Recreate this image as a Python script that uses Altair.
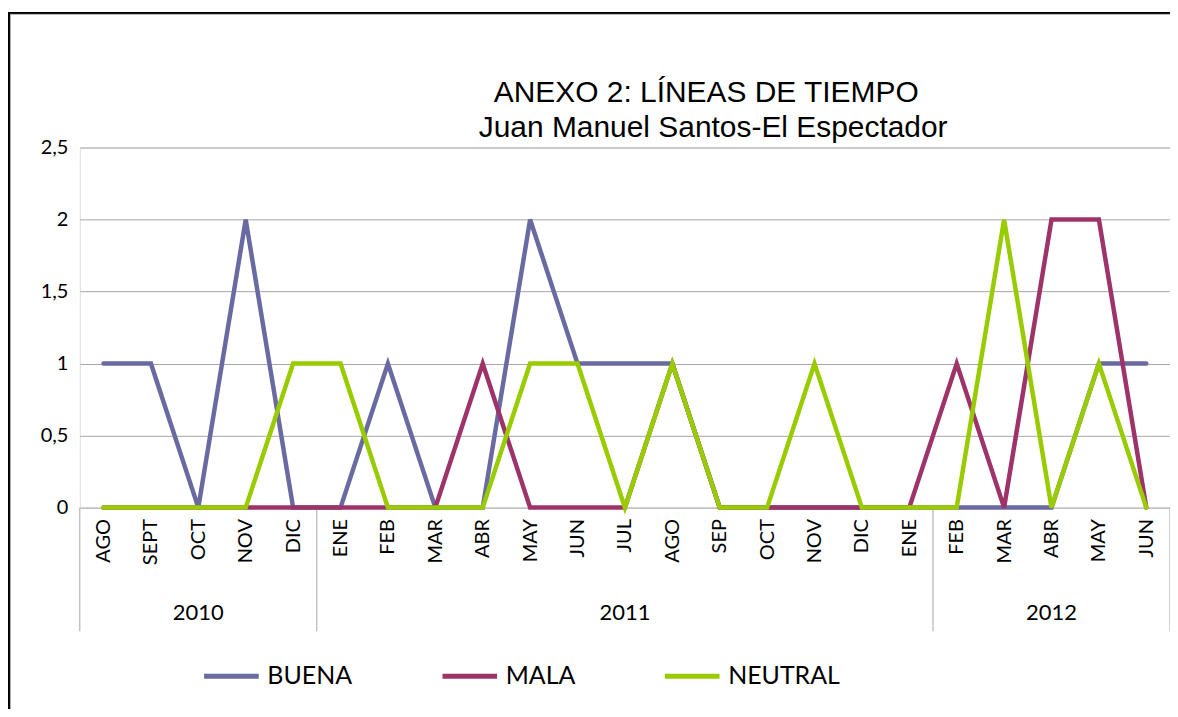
import altair as alt
import pandas as pd

# ---- data ----
months = ["AGO", "SEPT", "OCT", "NOV", "DIC",
          "ENE", "FEB", "MAR", "ABR", "MAY", "JUN", "JUL", "AGO", "SEP", "OCT", "NOV", "DIC", "ENE",
          "FEB", "MAR", "ABR", "MAY", "JUN"]
years = ["2010", "2010", "2010", "2010", "2010",
         "2011", "2011", "2011", "2011", "2011", "2011", "2011", "2011", "2011", "2011", "2011", "2011", "2011",
         "2012", "2012", "2012", "2012", "2012"]
buena = [1, 1, 0, 2, 0, 0, 1, 0, 0, 2, 1, 1, 1, 0, 0, 0, 0, 0, 0, 0, 0, 1, 1]
mala = [0, 0, 0, 0, 0, 0, 0, 0, 1, 0, 0, 0, 1, 0, 0, 0, 0, 0, 1, 0, 2, 2, 0]
neutral = [0, 0, 0, 0, 1, 1, 0, 0, 0, 1, 1, 0, 1, 0, 0, 1, 0, 0, 0, 2, 0, 1, 0]
series = ["BUENA", "MALA", "NEUTRAL"]
colors = ["#6A6AA3", "#9E336A", "#99CC00"]
y_ticks = [0, 0.5, 1, 1.5, 2, 2.5]
title_main = "ANEXO 2: LÍNEAS DE TIEMPO"
title_sub = "Juan Manuel Santos-El Espectador"

rows = []
for name, vals in zip(series, [buena, mala, neutral]):
    for i, v in enumerate(vals):
        rows.append({"serie": name, "i": i, "valor": v})
df = pd.DataFrame(rows)

idx = pd.DataFrame({"i": range(len(months)), "anio": years})
yr_df = idx.groupby("anio").i.agg(["min", "max", "mean"]).reset_index()
borders = list(yr_df["min"] - 0.5) + [yr_df["max"].max() + 0.5]
bd_df = pd.DataFrame({"borde": borders})

W, H = 1093, 361

x_scale = alt.Scale(domain=[-0.5, len(months) - 0.5], nice=False, zero=False)
month_expr = "[" + ",".join(f"'{m}'" for m in months) + "][datum.value]"
x_axis = alt.Axis(values=list(range(len(months))), labelExpr=month_expr, labelAngle=-90,
                  labelFont="Lato", labelFontSize=20, labelColor="black", labelPadding=11,
                  tickSize=0, ticks=False, domain=False, grid=False, title=None,
                  labelOverlap=False, labelFlush=False, labelBound=False)

lines = alt.Chart(df).mark_line(strokeWidth=4.5, strokeJoin="miter", strokeCap="round").encode(
    x=alt.X("i:Q", scale=x_scale, axis=x_axis),
    y=alt.Y("valor:Q", scale=alt.Scale(domain=[0, 2.5], nice=False, zero=True),
            axis=alt.Axis(values=y_ticks,
                          labelExpr="replace(format(datum.value, '.1~f'), '.', ',')",
                          grid=True, gridColor="#A6A6A6", gridWidth=1, domain=False, ticks=False,
                          labelPadding=12, labelFont="Lato", labelFontSize=20,
                          labelColor="black", title=None)),
    color=alt.Color("serie:N", scale=alt.Scale(domain=series, range=colors),
                    legend=alt.Legend(orient="none", legendX=122, legendY=500,
                                      direction="horizontal", title=None,
                                      symbolType="stroke", symbolSize=3000,
                                      symbolStrokeWidth=5, labelFont="Lato",
                                      labelFontSize=25, labelColor="black",
                                      labelOffset=6, columnPadding=79, padding=0)),
    order=alt.Order("i:Q"),
)

year_text = alt.Chart(yr_df).mark_text(font="Lato", fontSize=22, color="black",
                                        baseline="middle", align="center").encode(
    x=alt.X("mean:Q", scale=x_scale, axis=x_axis),
    y=alt.value(H + 106),
    text="anio:N",
)

box = alt.Chart(bd_df).mark_rule(color="#A6A6A6", strokeWidth=1).encode(
    x=alt.X("borde:Q", scale=x_scale, axis=x_axis),
    y=alt.value(H),
    y2=alt.value(H + 124),
)

one = pd.DataFrame({"k": [0]})
title1 = alt.Chart(one).mark_text(font="Liberation Sans", fontSize=30, color="black",
                                   align="center", baseline="middle", text=title_main).encode(
    x=alt.value(628), y=alt.value(-55))
title2 = alt.Chart(one).mark_text(font="Liberation Sans", fontSize=30, color="black",
                                   align="center", baseline="middle", text=title_sub).encode(
    x=alt.value(635), y=alt.value(-20))

frame_left = alt.Chart(one).mark_rule(color="black", strokeWidth=2).encode(
    x=alt.value(-71), y=alt.value(-136), y2=alt.value(H + 220))
frame_left2 = alt.Chart(one).mark_rule(color="#B0B0B0", strokeWidth=1).encode(
    x=alt.value(-69.5), y=alt.value(-134), y2=alt.value(H + 220))
frame_top = alt.Chart(one).mark_rule(color="black", strokeWidth=2).encode(
    y=alt.value(-135), x=alt.value(-72), x2=alt.value(W + 20))
frame_top2 = alt.Chart(one).mark_rule(color="#B0B0B0", strokeWidth=1).encode(
    y=alt.value(-133.5), x=alt.value(-70), x2=alt.value(W + 20))

chart = alt.layer(box, year_text, lines, title1, title2,
                  frame_left, frame_left2, frame_top, frame_top2).properties(
    width=W, height=H,
    autosize=alt.AutoSizeParams(type="none"),
    padding={"left": 72, "top": 139, "right": 0, "bottom": 201},
).configure_view(stroke=None).configure(background="white")

chart.save("out.html", embed_options={"renderer": "svg", "actions": False})
